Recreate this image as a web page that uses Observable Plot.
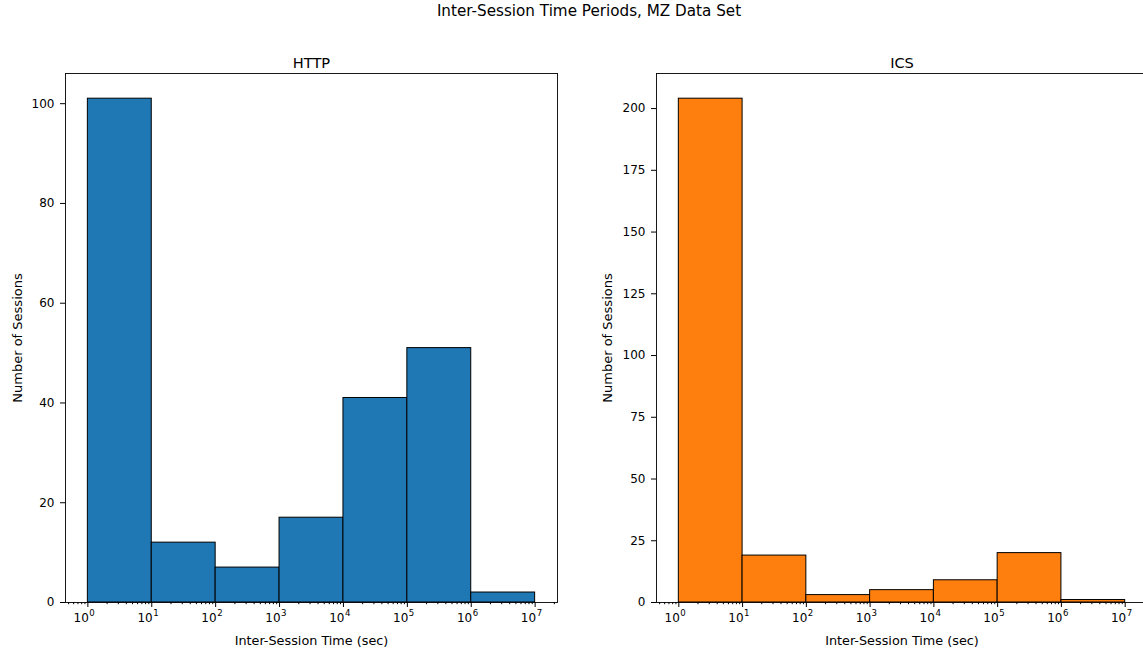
<!DOCTYPE html>
<html><head><meta charset="utf-8">
<script src="https://cdn.jsdelivr.net/npm/d3@7"></script>
<script src="https://cdn.jsdelivr.net/npm/@observablehq/plot@0.6"></script>
<style>
html,body{margin:0;padding:0;background:#fff;overflow:hidden;width:1143px;height:651px;}
#wrap{position:relative;width:1143px;height:651px;overflow:hidden;font-family:"DejaVu Sans",sans-serif;background:#fff;}
#title{position:absolute;left:0;width:1178px;top:2px;text-align:center;font-size:15.2px;color:#000;}
.panel{position:absolute;top:0;}
</style>
</head><body>
<div id="wrap"><div id="title">Inter-Session Time Periods, MZ Data Set</div></div>
<script>
// bin edges (seconds)
const edges = [1, 10, 100, 1000, 10000, 100000, 1000000, 10000000];
// counts per bin
const httpCounts = [101, 12, 7, 17, 41, 51, 2];
const icsCounts = [204, 19, 3, 5, 9, 20, 1];
// tick values
const httpYTicks = [0, 20, 40, 60, 80, 100];
const icsYTicks = [0, 25, 50, 75, 100, 125, 150, 175, 200];
const majorExps = [0, 1, 2, 3, 4, 5, 6, 7];

const xDomain = [10 ** -0.35, 10 ** 7.35];
const majors = majorExps.map(e => 10 ** e);
const minors = [];
for (let e = -1; e <= 7; e++) for (let k = 2; k <= 9; k++) {
  const v = k * 10 ** e;
  if (v >= xDomain[0] && v <= xDomain[1]) minors.push(v);
}

function panel({counts, yTicks, fill, left, width, mLeft, mRight, title, yLabelDx}) {
  const bars = counts.map((c, i) => ({x1: edges[i], x2: edges[i + 1], y: c}));
  const ymax = d3.max(counts) * 1.05;
  const p = Plot.plot({
    width, height: 651,
    marginLeft: mLeft, marginRight: mRight, marginTop: 73, marginBottom: 49,
    style: {fontFamily: "DejaVu Sans", fontSize: "11.5px", color: "black", background: "transparent", overflow: "visible"},
    x: {type: "log", domain: xDomain},
    y: {domain: [0, ymax]},
    marks: [
      Plot.rectY(bars, {x1: "x1", x2: "x2", y: "y", fill, stroke: "black", strokeWidth: 1}),
      Plot.axisY({ticks: yTicks, tickSize: 5, tickPadding: 6, label: null, fontSize: 12, tickFormat: d => String(d)}),
      Plot.axisX({ticks: minors, tickSize: 2.2, tickFormat: () => "", label: null}),
      Plot.axisX({ticks: majors, tickSize: 5, tickFormat: () => "", label: null}),
      Plot.text(majorExps, {x: e => 10 ** e, text: () => "10", frameAnchor: "bottom", textAnchor: "end", lineAnchor: "middle", dx: 1, dy: 16, fontSize: 12}),
      Plot.text(majorExps, {x: e => 10 ** e, text: e => String(e), frameAnchor: "bottom", textAnchor: "start", lineAnchor: "middle", dx: 1.5, dy: 10.5, fontSize: 8.6}),
      Plot.frame({stroke: "black", strokeWidth: 0.9}),
      Plot.text([title], {text: d => d, frameAnchor: "top", textAnchor: "middle", lineAnchor: "bottom", dy: -6, fontSize: 14.6}),
      Plot.text(["Inter-Session Time (sec)"], {text: d => d, frameAnchor: "bottom", textAnchor: "middle", lineAnchor: "middle", dy: 38, fontSize: 12.8}),
      Plot.text(["Number of Sessions"], {text: d => d, frameAnchor: "left", textAnchor: "middle", lineAnchor: "middle", rotate: -90, dx: yLabelDx, fontSize: 13})
    ]
  });
  p.classList.add("panel");
  p.style.left = left + "px";
  document.getElementById("wrap").appendChild(p);
}

panel({counts: httpCounts, yTicks: httpYTicks, fill: "#1f77b4", left: 0, width: 600, mLeft: 65, mRight: 43, title: "HTTP", yLabelDx: -48});
panel({counts: icsCounts, yTicks: icsYTicks, fill: "#ff7f0e", left: 590, width: 560, mLeft: 66, mRight: 3, title: "ICS", yLabelDx: -49});
</script>
</body></html>
